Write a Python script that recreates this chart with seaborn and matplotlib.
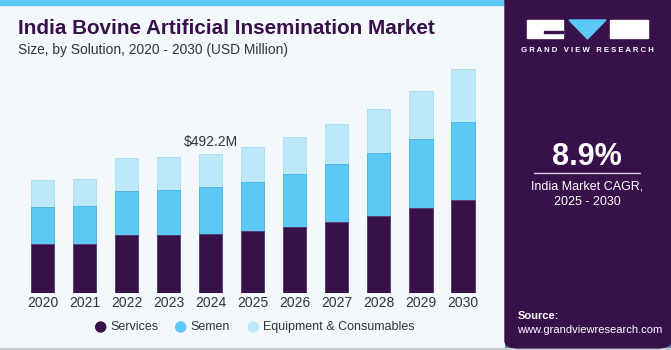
import numpy as np
import pandas as pd
import matplotlib
matplotlib.use('Agg')
import matplotlib.pyplot as plt
import seaborn as sns
from matplotlib.patches import Rectangle, FancyBboxPatch, Polygon, Ellipse

# dados (USD Million)
anos = ['2020', '2021', '2022', '2023', '2024', '2025', '2026', '2027', '2028', '2029', '2030']
services = [172.8, 174.9, 205.6, 205.6, 210.2, 219.7, 232.7, 252.5, 273.6, 299.7, 330.0]
semen = [130.5, 132.9, 156.2, 159.7, 164.7, 172.8, 186.9, 203.4, 222.1, 245.4, 275.0]
equipamentos = [96.3, 96.3, 116.4, 115.3, 117.4, 123.4, 130.5, 141.0, 153.0, 168.2, 184.8]
segmentos = ['Services', 'Semen', 'Equipment & Consumables']
cores = ['#38104A', '#5BC8F5', '#BDE8F9']

Base_Dados = pd.DataFrame({'Ano': anos, 'Services': services, 'Semen': semen,
                           'Equipamentos': equipamentos})
Base_Dados['Nivel2'] = Base_Dados['Services'] + Base_Dados['Semen']
Base_Dados['Total'] = Base_Dados['Nivel2'] + Base_Dados['Equipamentos']

W, H = 671, 350
fundo = '#F3F8FC'
roxo = '#38104A'

sns.set_style('white')
plt.rcParams['font.family'] = ['Liberation Sans', 'DejaVu Sans']

fig = plt.figure(figsize=(W / 100, H / 100), dpi=100)
fig.patch.set_facecolor(fundo)

# faixa azul no topo e linha inferior
fig.patches.append(Rectangle((0, 1 - 5 / H), 505 / W, 5 / H, transform=fig.transFigure,
                             color='#5BC8F5', zorder=0))
fig.patches.append(Rectangle((0, 0), 1, 2 / H, transform=fig.transFigure,
                             color='#C8CDD2', zorder=0))

# grafico principal
base_px = 293.3
px_por_mi = 1 / 3.526
ymax = 900
altura_px = ymax * px_por_mi
esq_px = 42.5 - 0.75 * 42.05
larg_px = 11.5 * 42.05
ax = fig.add_axes([esq_px / W, (H - base_px) / H, larg_px / W, altura_px / H])
ax.set_facecolor(fundo)

sns.barplot(data=Base_Dados, x='Ano', y='Total', color=cores[2], width=0.55,
            saturation=1, edgecolor='#A9DDF2', linewidth=0.6, ax=ax)
sns.barplot(data=Base_Dados, x='Ano', y='Nivel2', color=cores[1], width=0.55,
            saturation=1, edgecolor='#4BB3DE', linewidth=0.6, ax=ax)
sns.barplot(data=Base_Dados, x='Ano', y='Services', color=cores[0], width=0.55,
            saturation=1, edgecolor='#5A3A6A', linewidth=0.6, ax=ax)

ax.set_xlim(-0.75, 10.75)
ax.set_ylim(0, ymax)
ax.set_xlabel('')
ax.set_ylabel('')
ax.set_yticks([])
ax.tick_params(axis='x', length=0, pad=2, labelsize=10, labelcolor='#333333')
for lado in ax.spines.values():
    lado.set_visible(False)

# rotulo do ano 2024
i24 = anos.index('2024')
ax.text(i24, Base_Dados['Total'][i24] + 18, '$492.2M', ha='center', va='bottom',
        fontsize=10, color='#333333')

# titulo
fig.text(18 / W, 1 - 28 / H, 'India Bovine Artificial Insemination Market', fontsize=14.9,
         fontweight='bold', color=roxo, va='center', ha='left')
fig.text(18 / W, 1 - 50 / H, 'Size, by Solution, 2020 - 2030 (USD Million)', fontsize=9.9,
         color='#333333', va='center', ha='left')

# legenda
leg_y = 1 - 327 / H
for cx, nome, cor in zip([100.7, 180.7, 253.3], segmentos, cores):
    fig.patches.append(Ellipse((cx / W, leg_y), 10 / W, 10 / H, transform=fig.transFigure,
                               color=cor, zorder=3))
    fig.text((cx + 10) / W, leg_y, nome, fontsize=9, color='#333333', va='center', ha='left')

# painel lateral
fig.patches.append(FancyBboxPatch((505 / W, 0.006), 166 / W, 1.2, transform=fig.transFigure,
                                  boxstyle='round,pad=0,rounding_size=0.02',
                                  color=roxo, zorder=1))
gradiente = np.linspace(0, 1, 100).reshape(-1, 1)
eixo_grad = fig.add_axes([505 / W, 0.006, 166 / W, 95 / H])
eixo_grad.imshow(gradiente, aspect='auto', origin='upper',
                 cmap=matplotlib.colors.LinearSegmentedColormap.from_list('g', [roxo, '#3E6FA6']),
                 alpha=0.9)
eixo_grad.axis('off')

# logo
fig.patches.append(Rectangle((527 / W, 1 - 38 / H), 36 / W, 18 / H, transform=fig.transFigure,
                             color='white', zorder=3))
fig.patches.append(Rectangle((610 / W, 1 - 38 / H), 38 / W, 18 / H, transform=fig.transFigure,
                             color='white', zorder=3))
fig.patches.append(Polygon([(569 / W, 1 - 20 / H), (606 / W, 1 - 20 / H), (587.5 / W, 1 - 39 / H)],
                           transform=fig.transFigure, color='#5BC8F5', zorder=3))
fig.patches.append(Rectangle((544 / W, 1 - 33 / H), 19 / W, 2 / H, transform=fig.transFigure,
                             color=roxo, zorder=4))
fig.text(587.5 / W, 1 - 50 / H, 'G R A N D   V I E W   R E S E A R C H', fontsize=5.6,
         color='white', ha='center', va='center', fontweight='bold', zorder=4)

fig.text(587 / W, 1 - 157 / H, '8.9%', fontsize=22, color='white', ha='center', va='center',
         fontweight='bold', zorder=4)
fig.lines.append(plt.Line2D([534 / W, 640 / W], [1 - 173 / H, 1 - 173 / H],
                            transform=fig.transFigure, color='#D8D0E0', lw=1, zorder=4))
fig.text(587 / W, 1 - 186 / H, 'India Market CAGR,', fontsize=9, color='white', ha='center',
         va='center', zorder=4)
fig.text(587 / W, 1 - 202 / H, '2025 - 2030', fontsize=9, color='white', ha='center',
         va='center', zorder=4)
fig.text(518 / W, 1 - 316 / H, 'Source:', fontsize=8, color='white', ha='left',
         va='center', fontweight='bold', zorder=4)
fig.text(517 / W, 1 - 330 / H, 'www.grandviewresearch.com', fontsize=8, color='white',
         ha='left', va='center', zorder=4)

fig.savefig('out.png', dpi=100, facecolor=fig.get_facecolor())
